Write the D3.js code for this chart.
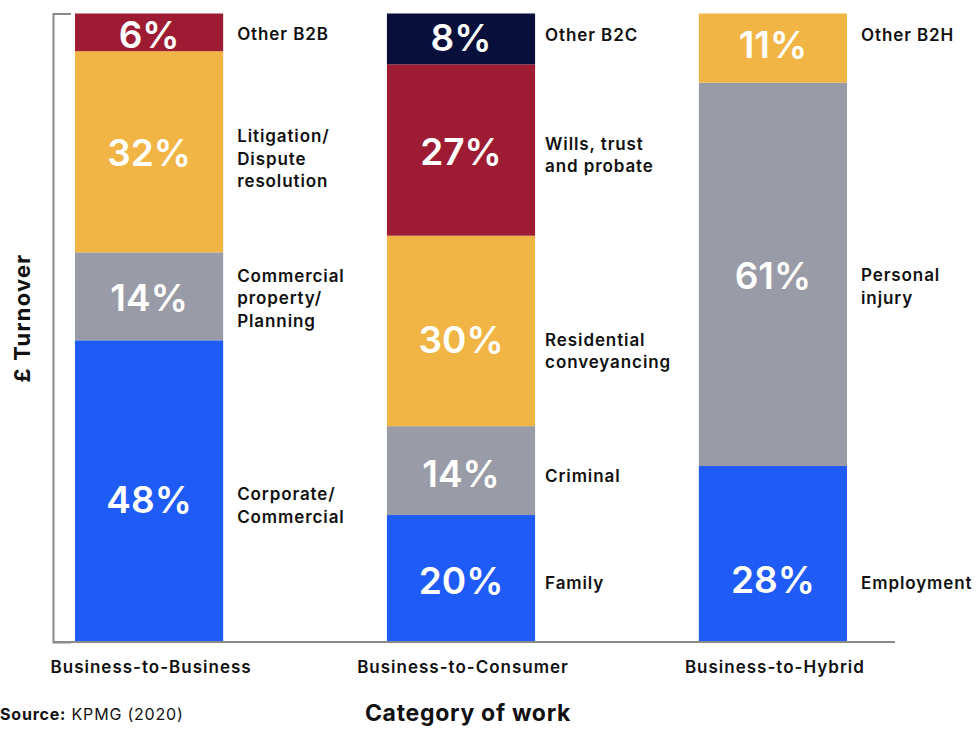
<!DOCTYPE html>
<html>
<head>
<meta charset="utf-8">
<script src="https://cdn.jsdelivr.net/npm/d3@7"></script>
<style>
  html, body { margin: 0; padding: 0; background: #fff; }
  svg { display: block; font-family: Inter, "Noto Sans", sans-serif; }
</style>
</head>
<body>
<svg id="chartSvg" width="978" height="729"></svg>
<script>
// Categories of work (x axis)
const categories = ["Business-to-Business", "Business-to-Consumer", "Business-to-Hybrid"];

// Share of £ turnover per area of law, bottom to top
const b2bAreas = ["Corporate/\nCommercial", "Commercial\nproperty/\nPlanning", "Litigation/\nDispute\nresolution", "Other B2B"];
const b2bShares = [48, 14, 32, 6];

const b2cAreas = ["Family", "Criminal", "Residential\nconveyancing", "Wills, trust\nand probate", "Other B2C"];
const b2cShares = [20, 14, 30, 27, 8];

const b2hAreas = ["Employment", "Personal\ninjury", "Other B2H"];
const b2hShares = [28, 61, 11];

// colour by stacking level
const segmentColors = ["#1f5cf7", "#999ca6", "#f1b545", "#9e1c33", "#070f3a"];

// hand nudges (px) for the labels, same order as the shares
const pctShift = [[9, 1, 1, 2], [2, 3, 9, 2, -1], [26, 1, -3]];
const noteShift = [[14, 2, 7, 2], [4, 5, 20, 5, -4], [29, 12, -13]];
const noteGap = [14, 10, 14];

function drawChart() {
  const svg = d3.select("#chartSvg");
  svg.selectAll("*").remove();

  const areas = [b2bAreas, b2cAreas, b2hAreas];
  const shares = [b2bShares, b2cShares, b2hShares];

  // plot box
  const left = 53, right = 895, top = 13.5, bottom = 642;

  const xScale = d3.scaleBand()
    .domain(categories)
    .range([75, 847])
    .paddingInner(0.525)
    .paddingOuter(0);

  // each bar is stacked and scaled to its own total
  const yScale = d3.scaleLinear()
    .domain([0, 1])
    .range([bottom, top]);

  // Build segments
  const segments = [];
  categories.forEach((cat, i) => {
    const total = d3.sum(shares[i]);
    let acc = 0;
    shares[i].forEach((v, j) => {
      segments.push({
        cat: cat, ci: i, level: j,
        area: areas[i][j], value: v,
        y0: acc / total, y1: (acc + v) / total
      });
      acc += v;
    });
  });

  // Draw bars
  svg.append("g")
    .selectAll("rect")
    .data(segments)
    .enter()
    .append("rect")
    .attr("x", d => xScale(d.cat))
    .attr("y", d => yScale(d.y1))
    .attr("width", xScale.bandwidth())
    .attr("height", d => yScale(d.y0) - yScale(d.y1))
    .style("fill", d => segmentColors[d.level]);

  // Y axis: just the line plus a short outer tick at the top
  const yAxis = svg.append("g")
    .attr("transform", `translate(${left}, 0)`)
    .call(d3.axisLeft(yScale).tickValues([]).tickSizeOuter(-18));
  yAxis.select(".domain")
    .attr("stroke", "#8a8a8a")
    .attr("stroke-width", 2);

  // X axis line
  svg.append("line")
    .attr("x1", left)
    .attr("x2", right)
    .attr("y1", bottom)
    .attr("y2", bottom)
    .attr("stroke", "#8a8a8a")
    .attr("stroke-width", 2);

  // Percent labels inside the bars
  svg.append("g")
    .selectAll("text")
    .data(segments)
    .enter()
    .append("text")
    .attr("x", d => xScale(d.cat) + xScale.bandwidth() / 2)
    .attr("y", d => (yScale(d.y0) + yScale(d.y1)) / 2 + pctShift[d.ci][d.level])
    .attr("dy", "0.36em")
    .attr("text-anchor", "middle")
    .attr("font-size", "37px")
    .attr("font-weight", 600)
    .attr("fill", "#fff")
    .text(d => d.value + "%");

  // Area names to the right of each bar
  const lineH = 22.5;
  const notes = svg.append("g")
    .selectAll("text")
    .data(segments)
    .enter()
    .append("text")
    .attr("font-size", "17px")
    .attr("font-weight", 600)
    .attr("letter-spacing", "0.9px")
    .attr("fill", "#111");

  notes.each(function(d) {
    const lines = d.area.split("\n");
    const cx = xScale(d.cat) + xScale.bandwidth() + noteGap[d.ci];
    const cy = (yScale(d.y0) + yScale(d.y1)) / 2 + noteShift[d.ci][d.level];
    d3.select(this)
      .selectAll("tspan")
      .data(lines)
      .enter()
      .append("tspan")
      .attr("x", cx)
      .attr("y", (l, k) => cy + (k - (lines.length - 1) / 2) * lineH)
      .attr("dy", "0.36em")
      .text(l => l);
  });

  // Category labels
  svg.append("g")
    .selectAll("text")
    .data(categories)
    .enter()
    .append("text")
    .attr("x", d => xScale(d) + xScale.bandwidth() / 2 + 2)
    .attr("y", 667)
    .attr("dy", "0.36em")
    .attr("text-anchor", "middle")
    .attr("font-size", "17px")
    .attr("font-weight", 600)
    .attr("letter-spacing", "1px")
    .attr("fill", "#111")
    .text(d => d);

  // Axis titles
  svg.append("text")
    .attr("transform", "translate(22, 318) rotate(-90)")
    .attr("dy", "0.36em")
    .attr("text-anchor", "middle")
    .attr("font-size", "22px")
    .attr("font-weight", 700)
    .attr("letter-spacing", "1.2px")
    .attr("fill", "#111")
    .text("£ Turnover");

  svg.append("text")
    .attr("x", 468)
    .attr("y", 713)
    .attr("dy", "0.36em")
    .attr("text-anchor", "middle")
    .attr("font-size", "23px")
    .attr("font-weight", 700)
    .attr("letter-spacing", "0.7px")
    .attr("fill", "#111")
    .text("Category of work");

  // Source note
  const src = svg.append("text")
    .attr("x", 0)
    .attr("y", 714)
    .attr("dy", "0.36em")
    .attr("font-size", "16px")
    .attr("letter-spacing", "0.8px")
    .attr("fill", "#111");
  src.append("tspan").attr("font-weight", 700).text("Source:");
  src.append("tspan").text(" KPMG (2020)");
}

drawChart();
</script>
</body>
</html>
